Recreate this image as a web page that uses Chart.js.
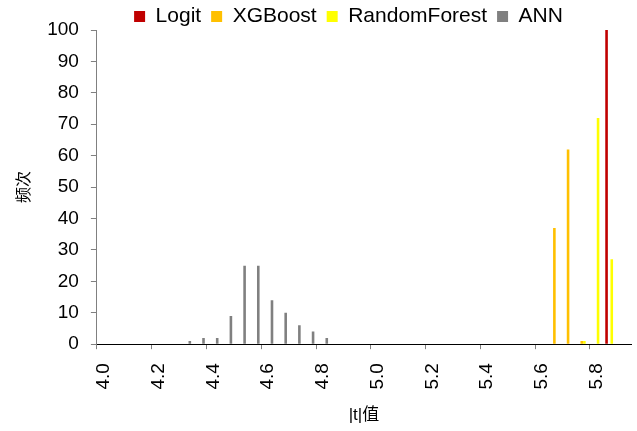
<!DOCTYPE html>
<html>
<head>
<meta charset="utf-8">
<script src="https://cdn.jsdelivr.net/npm/chart.js@4"></script>
<style>
  body { margin: 0; background: #fff; }
</style>
</head>
<body>
<canvas id="chart" width="637" height="431"></canvas>
<script>
// bins of |t| from 4.00 to 5.90, step 0.05
const bins = ['4.00','4.05','4.10','4.15','4.20','4.25','4.30','4.35','4.40','4.45',
              '4.50','4.55','4.60','4.65','4.70','4.75','4.80','4.85','4.90','4.95',
              '5.00','5.05','5.10','5.15','5.20','5.25','5.30','5.35','5.40','5.45',
              '5.50','5.55','5.60','5.65','5.70','5.75','5.80','5.85','5.90'];

const logit        = [0,0,0,0,0,0,0,0,0,0, 0,0,0,0,0,0,0,0,0,0, 0,0,0,0,0,0,0,0,0,0, 0,0,0,0,0,0,0,100,0];
const xgboost      = [0,0,0,0,0,0,0,0,0,0, 0,0,0,0,0,0,0,0,0,0, 0,0,0,0,0,0,0,0,0,0, 0,0,0,37,62,1,0,0,0];
const randomForest = [0,0,0,0,0,0,0,0,0,0, 0,0,0,0,0,0,0,0,0,0, 0,0,0,0,0,0,0,0,0,0, 0,0,0,0,0,1,72,27,0];
const ann          = [0,0,0,0,0,0,1,2,2,9, 25,25,14,10,6,4,2,0,0,0, 0,0,0,0,0,0,0,0,0,0, 0,0,0,0,0,0,0,0,0];

const tickLabels = ['4.0','4.2','4.4','4.6','4.8','5.0','5.2','5.4','5.6','5.8'];
const yTicks = [0, 10, 20, 30, 40, 50, 60, 70, 80, 90, 100];

const FONT = "'Liberation Sans', Arial, sans-serif";
const CJK = "'Liberation Sans', 'Noto Sans CJK SC', sans-serif";

// shift the legend so it sits where the original one is
const legendShift = {
    id: 'legendShift',
    afterLayout(chart) {
        const lg = chart.legend;
        if (!lg) return;
        lg.left += 33;
        lg.right += 33;
        lg.top -= 4;
    }
};

const ctx = document.getElementById('chart');

new Chart(ctx, {
    type: 'bar',
    data: {
        labels: bins,
        datasets: [
            { label: 'Logit', data: logit, backgroundColor: '#C00000' },
            { label: 'XGBoost', data: xgboost, backgroundColor: '#FFC000' },
            { label: 'RandomForest', data: randomForest, backgroundColor: '#FFFF00' },
            { label: 'ANN', data: ann, backgroundColor: '#808080' }
        ]
    },
    options: {
        responsive: false,
        animation: false,
        layout: {
            padding: { left: 0, right: 6, top: 0, bottom: 0 }
        },
        datasets: {
            bar: {
                categoryPercentage: 0.76,
                barPercentage: 1.0,
                borderWidth: 0
            }
        },
        plugins: {
            legend: {
                position: 'top',
                maxHeight: 30,
                labels: {
                    boxWidth: 11,
                    boxHeight: 11,
                    padding: 10,
                    color: '#000',
                    font: { family: FONT, size: 21 }
                }
            },
            tooltip: { enabled: false }
        },
        scales: {
            x: {
                grid: {
                    display: true,
                    drawOnChartArea: false,
                    drawTicks: true,
                    tickLength: 5,
                    offset: true,
                    tickColor: (c) => (c.index % 4 === 0 ? '#808080' : 'rgba(0,0,0,0)')
                },
                border: { color: '#000', width: 1 },
                afterFit: (scale) => {
                    scale.paddingLeft = 0;
                    scale.paddingRight = 0;
                },
                ticks: {
                    autoSkip: false,
                    maxRotation: 90,
                    minRotation: 90,
                    padding: 14,
                    color: '#000',
                    font: { family: FONT, size: 19 },
                    callback: (v, i) => (i % 4 === 0 ? tickLabels[i / 4] : '')
                },
                title: {
                    display: true,
                    text: '|t|值',
                    color: '#000',
                    font: { family: CJK, size: 17 },
                    padding: { top: 2, bottom: 5 }
                }
            },
            y: {
                min: 0,
                max: 100,
                grid: {
                    drawOnChartArea: false,
                    drawTicks: true,
                    tickLength: 6,
                    color: '#808080'
                },
                border: { color: '#808080', width: 1 },
                afterBuildTicks: (scale) => {
                    scale.ticks = yTicks.map(v => ({ value: v }));
                },
                ticks: {
                    padding: 12,
                    color: '#000',
                    font: { family: FONT, size: 19 }
                },
                title: {
                    display: true,
                    text: '频次',
                    color: '#000',
                    font: { family: "'Noto Sans CJK SC', sans-serif", size: 16 },
                    padding: { top: 13, bottom: 3 }
                }
            }
        }
    },
    plugins: [legendShift]
});
</script>
</body>
</html>
